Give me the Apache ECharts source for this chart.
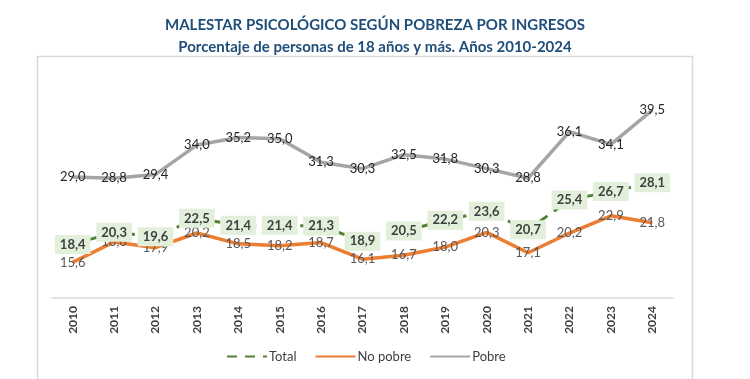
<!DOCTYPE html>
<html>
<head>
<meta charset="utf-8">
<script src="https://cdn.jsdelivr.net/npm/echarts@6/dist/echarts.min.js"></script>
<style>html,body{margin:0;padding:0;background:#fff;}#c{width:750px;height:379px;}</style>
</head>
<body>
<div id="c"></div>
<script>
const years = ['2010','2011','2012','2013','2014','2015','2016','2017','2018','2019','2020','2021','2022','2023','2024'];
const total = [18.4,20.3,19.6,22.5,21.4,21.4,21.3,18.9,20.5,22.2,23.6,20.7,25.4,26.7,28.1];
const noPobre = [15.6,18.8,17.9,20.2,18.5,18.2,18.7,16.1,16.7,18.0,20.3,17.1,20.2,22.9,21.8];
const pobre = [29.0,28.8,29.4,34.0,35.2,35.0,31.3,30.3,32.5,31.8,30.3,28.8,36.1,34.1,39.5];

const FONT = 'Lato, "Open Sans", sans-serif';
const fmt = p => p.value.toFixed(1).replace('.', ',');

const chart = echarts.init(document.getElementById('c'));
chart.setOption({
  animation: false,
  backgroundColor: '#fff',
  textStyle: { fontFamily: FONT },
  title: {
    text: 'MALESTAR PSICOLÓGICO SEGÚN POBREZA POR INGRESOS\nPorcentaje de personas de 18 años y más. Años 2010-2024',
    left: 'center', top: 9,
    textStyle: { fontFamily: FONT, fontSize: 15, fontWeight: 'bold', color: '#1F4E79', lineHeight: 22 }
  },
  graphic: [{
    type: 'rect', left: 35, top: 54, silent: true,
    shape: { width: 655, height: 323 },
    style: { fill: 'none', stroke: '#D9D9D9', lineWidth: 1.5 }
  }],
  legend: {
    bottom: 11, left: 221,
    itemWidth: 40, itemHeight: 4, itemGap: 18,
    itemStyle: { opacity: 0 },
    textStyle: { fontFamily: FONT, fontSize: 13, color: '#404040', padding: [0,0,0,-3] },
    data: ['Total', 'No pobre', 'Pobre']
  },
  grid: { left: 52, right: 77, top: 75, bottom: 81 },
  xAxis: {
    type: 'category', data: years, boundaryGap: true,
    axisLine: { lineStyle: { color: '#D9D9D9', width: 1.5 } },
    axisTick: { show: false },
    axisLabel: { rotate: 90, margin: 8, fontFamily: FONT, fontSize: 12, fontWeight: 'bold', color: '#404040' }
  },
  yAxis: { type: 'value', min: 10, max: 45, show: false, splitLine: { show: false } },
  series: [
    {
      name: 'Pobre', type: 'line', data: pobre, symbol: 'circle', symbolSize: 0.1, showSymbol: true, z: 2,
      lineStyle: { color: '#A5A5A5', width: 3.5 }, itemStyle: { color: '#A5A5A5' },
      label: { show: true, position: 'inside', formatter: fmt, fontFamily: FONT, fontSize: 13, color: '#262626' }
    },
    {
      name: 'No pobre', type: 'line', data: noPobre, symbol: 'circle', symbolSize: 0.1, showSymbol: true, z: 3,
      lineStyle: { color: '#ED7D31', width: 3.5 }, itemStyle: { color: '#ED7D31' },
      label: { show: true, position: 'inside', formatter: fmt, fontFamily: FONT, fontSize: 13, color: '#595959' }
    },
    {
      name: 'Total', type: 'line', data: total, symbol: 'circle', symbolSize: 0.1, showSymbol: true, z: 4,
      lineStyle: { color: '#548235', width: 3, type: [10, 8] }, itemStyle: { color: '#548235' },
      label: { show: true, position: 'inside', formatter: fmt, fontFamily: FONT, fontSize: 13, fontWeight: 'bold',
               color: '#404040', backgroundColor: '#E2EFDA', padding: [3, 5, 3, 5] }
    }
  ]
});
</script>
</body>
</html>
